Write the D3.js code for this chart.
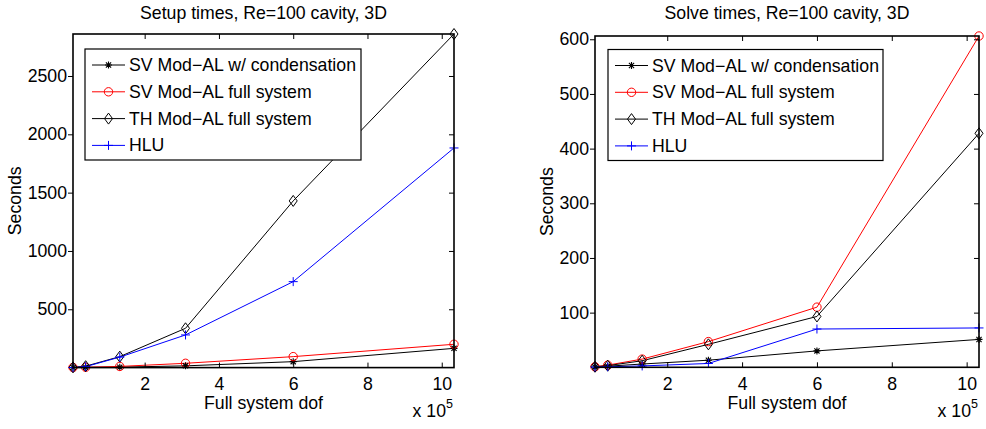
<!DOCTYPE html>
<html><head><meta charset="utf-8">
<script src="https://d3js.org/d3.v7.min.js"></script>
<style>
body{margin:0;background:#fff;}
svg text{font-family:"Liberation Sans",Arial,Helvetica,sans-serif;fill:#000;}
</style></head>
<body><svg id="chart" width="986" height="429"></svg>
<script>
// ---- data (dof in units of 1e5) ----
const dof = [0.07, 0.41, 1.33, 3.10, 6.0, 10.33];
const seriesNames = ["SV Mod\u2212AL w/ condensation", "SV Mod\u2212AL full system", "TH Mod\u2212AL full system", "HLU"];
const setupSVcond = [1, 3, 4, 15, 51, 165];
const setupSVfull = [1, 3, 10, 37, 94, 200];
const setupTH     = [2, 12, 94, 337, 1429, 2860];
const setupHLU    = [1, 8, 90, 280, 737, 1883];
const solveSVcond = [0.5, 2, 6, 13, 30, 51];
const solveSVfull = [1, 4, 15, 47, 110, 606];
const solveTH     = [1, 3, 12, 42, 93, 428];
const solveHLU    = [0.5, 1, 2.5, 7, 70, 72];
const xTicks = [2, 4, 6, 8, 10];
const setupYTicks = [500, 1000, 1500, 2000, 2500];
const solveYTicks = [100, 200, 300, 400, 500, 600];

const FS = "17.7px";
const styles = [
  {color:"#000", marker:"star"},
  {color:"#ff0000", marker:"circle"},
  {color:"#000", marker:"diamond"},
  {color:"#0000ff", marker:"plus"}
];

const svg = d3.select("#chart");

function drawMarker(g, type, x, y, color){
  if(type==="circle"){
    g.append("circle").attr("cx",x).attr("cy",y).attr("r",4.2).attr("fill","none").attr("stroke",color).attr("stroke-width",1);
  } else if(type==="diamond"){
    g.append("path").attr("d",`M${x},${y-5.5}L${x+4},${y}L${x},${y+5.5}L${x-4},${y}Z`).attr("fill","none").attr("stroke",color).attr("stroke-width",1);
  } else if(type==="plus"){
    g.append("path").attr("d",`M${x-4.5},${y}H${x+4.5}M${x},${y-4.5}V${y+4.5}`).attr("stroke",color).attr("stroke-width",1);
  } else if(type==="star"){
    const r=3.5, d=2.6;
    g.append("path").attr("d",`M${x},${y-r}V${y+r}M${x-d},${y-d}L${x+d},${y+d}M${x-d},${y+d}L${x+d},${y-d}M${x-r},${y}H${x+r}`).attr("stroke",color).attr("stroke-width",1.1);
  }
}

function panel(cfg){
  const x = d3.scaleLinear().domain([dof[0], dof[dof.length-1]]).range([cfg.left, cfg.right]);
  const y = d3.scaleLinear().domain([0, cfg.ymax]).range([cfg.bottom, cfg.top]);
  const g = svg.append("g");

  // title
  g.append("text").attr("x",(cfg.left+cfg.right)/2).attr("y",19).attr("text-anchor","middle")
    .style("font-size",FS).text(cfg.title);

  // series lines
  const line = d3.line().x((d,i)=>x(dof[i])).y(d=>y(d));
  cfg.series.forEach((s,k)=>{
    g.append("path").datum(s).attr("d",line).attr("fill","none").attr("stroke",styles[k].color).attr("stroke-width",1);
  });
  cfg.series.forEach((s,k)=>{
    s.forEach((v,i)=>drawMarker(g, styles[k].marker, x(dof[i]), y(v), styles[k].color));
  });

  // axes box
  const ax = g.append("g");
  const xAxisB = d3.axisBottom(x).tickValues(xTicks).tickSizeInner(-5).tickSizeOuter(0).tickPadding(10).tickFormat(d3.format("d"));
  const gb = ax.append("g").attr("transform",`translate(0,${cfg.bottom})`).call(xAxisB);
  gb.select(".domain").remove();
  gb.selectAll("line").attr("stroke","#000");
  gb.selectAll("text").style("font-size",FS).attr("dy","0.75em").attr("y",9);
  const xAxisT = d3.axisTop(x).tickValues(xTicks).tickSizeInner(-5).tickSizeOuter(0).tickFormat("");
  const gt = ax.append("g").attr("transform",`translate(0,${cfg.top})`).call(xAxisT);
  gt.select(".domain").remove();
  gt.selectAll("line").attr("stroke","#000");
  const yAxisL = d3.axisLeft(y).tickValues(cfg.yticks).tickSizeInner(5).tickSizeOuter(0).tickPadding(1).tickFormat(d3.format("d"));
  const gl = ax.append("g").attr("transform",`translate(${cfg.left},0)`).call(yAxisL);
  gl.select(".domain").remove();
  gl.selectAll("line").attr("stroke","#000");
  gl.selectAll("text").style("font-size",FS);
  const yAxisR = d3.axisRight(y).tickValues(cfg.yticks).tickSizeInner(-5).tickSizeOuter(0).tickFormat("");
  const gr = ax.append("g").attr("transform",`translate(${cfg.right},0)`).call(yAxisR);
  gr.select(".domain").remove();
  gr.selectAll("line").attr("stroke","#000");
  ax.append("rect").attr("x",cfg.left).attr("y",cfg.top).attr("width",cfg.right-cfg.left).attr("height",cfg.bottom-cfg.top)
    .attr("fill","none").attr("stroke","#000").attr("stroke-width",1.6);

  // axis labels
  g.append("text").attr("x",(cfg.left+cfg.right)/2).attr("y",409).attr("text-anchor","middle").style("font-size",FS).text("Full system dof");
  g.append("text").attr("transform",`translate(${cfg.ylabX},${(cfg.top+cfg.bottom)/2}) rotate(-90)`).attr("text-anchor","middle").style("font-size",FS).text("Seconds");
  const ex = g.append("text").attr("x",cfg.right-1).attr("y",417).attr("text-anchor","end").style("font-size",FS);
  ex.append("tspan").text("x 10");
  ex.append("tspan").attr("dy",-9).style("font-size","12.5px").text("5");

  // legend
  const lg = g.append("g");
  lg.append("rect").attr("x",cfg.legX).attr("y",cfg.legY).attr("width",cfg.legW).attr("height",111)
    .attr("fill","#fff").attr("stroke","#000").attr("stroke-width",1.2);
  seriesNames.forEach((name,k)=>{
    const yy = cfg.legY + 16 + k*26.8;
    lg.append("line").attr("x1",cfg.legX+7).attr("x2",cfg.legX+40).attr("y1",yy).attr("y2",yy).attr("stroke",styles[k].color).attr("stroke-width",1);
    drawMarker(lg, styles[k].marker, cfg.legX+23.5, yy, styles[k].color);
    lg.append("text").attr("x",cfg.legX+44).attr("y",yy+6).style("font-size",FS).text(name);
  });
}

panel({title:"Setup times, Re=100 cavity, 3D", left:73, right:454, top:34, bottom:367.6, ymax:2860,
  yticks:setupYTicks, series:[setupSVcond, setupSVfull, setupTH, setupHLU], ylabX:21, legX:85, legY:49, legW:276});
panel({title:"Solve times, Re=100 cavity, 3D", left:595, right:979, top:36, bottom:367.3, ymax:606,
  yticks:solveYTicks, series:[solveSVcond, solveSVfull, solveTH, solveHLU], ylabX:553, legX:608, legY:49.5, legW:275});
</script></body></html>
